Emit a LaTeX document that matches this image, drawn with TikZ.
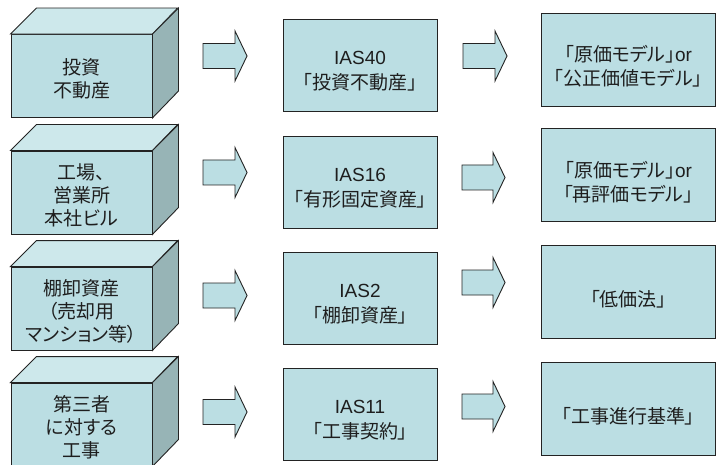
\documentclass[tikz,border=0pt]{standalone}
\usepackage{fontspec}
\setmainfont[RawFeature=+palt]{Noto Sans CJK JP}
\newfontfamily\lat{Liberation Sans}
\definecolor{fillfront}{RGB}{187,222,227}
\definecolor{filltop}{RGB}{205,232,235}
\definecolor{fillside}{RGB}{151,180,182}
\definecolor{edge}{RGB}{35,35,35}
\definecolor{ink}{RGB}{30,30,30}
\newcommand\blockarr[3]{%
  \draw[face] (#1,#3-12.5) -- (#2-12,#3-12.5) -- (#2-12,#3-25) -- (#2,#3)
    -- (#2-12,#3+25) -- (#2-12,#3+12.5) -- (#1,#3+12.5) -- cycle;}
\newcommand\cubeface[1]{%
  \draw[face,fill=filltop] (#1.north west) -- ++(26,-26) -- ++(141,0) -- (#1.north east) -- cycle;
  \draw[face,fill=fillside] (#1.north east) -- ++(26,-26) -- ++(0,83) -- (#1.south east) -- cycle;}
\begin{document}
\begin{tikzpicture}[x=1pt,y=-1pt,
  face/.style={draw=edge,line width=0.9pt,fill=fillfront,line join=miter},
  txt/.style={align=center,text=ink,inner sep=0pt,font=\fontsize{19}{23}\selectfont},
  ctxt/.style={txt,yshift=-2.5pt},
  mtxt/.style={txt,font=\fontsize{19}{25}\selectfont,yshift=-6pt},
  rtxt/.style={txt,font=\fontsize{19}{24}\selectfont,yshift=-7pt},
  front/.style={face,minimum width=141pt,minimum height=83pt,inner sep=0pt},
  midbox/.style={face,minimum width=154pt,minimum height=92pt,inner sep=0pt},
  rbox/.style={face,minimum width=174.5pt,minimum height=93pt,inner sep=0pt}]
\clip (0,0) rectangle (717,465);
\fill[white] (0,0) rectangle (717,465);
% row 1
\node[front] (c1) at (81.5,76) {};
\cubeface{c1}
\node[ctxt] (c1t) at (c1.center) {投資\\不動産};
\blockarr{203}{247}{56}
\node[midbox] (m1) at (360,65) {};
\node[mtxt] (m1t) at (m1.center) {\lat IAS40\\「投資不動産」};
\blockarr{463}{507}{56}
\node[rbox] (r1) at (628.25,59.5) {};
\node[rtxt] (r1t) at (r1.center) {「原価モデル」{\lat or}\\「公正価値モデル」};
% row 2
\node[front] (c2) at (81.5,192.5) {};
\cubeface{c2}
\node[ctxt] (c2t) at (c2.center) {工場、\\営業所\\本社ビル};
\blockarr{203}{247}{172.5}
\node[midbox] (m2) at (360,182) {};
\node[mtxt] (m2t) at (m2.center) {\lat IAS16\\「有形固定資産」};
\blockarr{462}{505}{177.5}
\node[rbox] (r2) at (628.25,175) {};
\node[rtxt] (r2t) at (r2.center) {「原価モデル」{\lat or}\\「再評価モデル」};
% row 3
\node[front] (c3) at (81.5,308.5) {};
\cubeface{c3}
\node[ctxt] (c3t) at (c3.center) {棚卸資産\\（売却用\\マンション等）};
\blockarr{203}{247}{295.5}
\node[midbox] (m3) at (360,298.5) {};
\node[mtxt] (m3t) at (m3.center) {\lat IAS2\\「棚卸資産」};
\blockarr{462}{505}{282.5}
\node[rbox] (r3) at (628.25,292) {};
\node[rtxt] (r3t) at (r3.center) {「低価法」};
% row 4
\node[front] (c4) at (81.5,424.5) {};
\cubeface{c4}
\node[ctxt] (c4t) at (c4.center) {第三者\\に対する\\工事};
\blockarr{203}{247}{412}
\node[midbox] (m4) at (360,414.5) {};
\node[mtxt] (m4t) at (m4.center) {\lat IAS11\\「工事契約」};
\blockarr{462}{505}{406.5}
\node[rbox] (r4) at (628.25,409) {};
\node[rtxt] (r4t) at (r4.center) {「工事進行基準」};
\end{tikzpicture}
\end{document}
